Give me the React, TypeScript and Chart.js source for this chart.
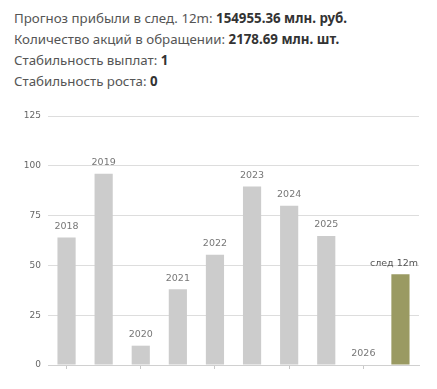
import React, { useEffect, useRef } from "react";
import { Chart, registerables } from "chart.js";

Chart.register(...registerables);

const categories = ["2018", "2019", "2020", "2021", "2022", "2023", "2024", "2025", "2026", "след 12m"];
const values = [64, 96, 9.7, 38, 55.3, 89.6, 80, 64.8, 0, 45.6];
const barColors = ["#cccccc", "#cccccc", "#cccccc", "#cccccc", "#cccccc", "#cccccc", "#cccccc", "#cccccc", "#cccccc", "#9a9a62"];
const yTicks = [0, 25, 50, 75, 100, 125];

const headerLines: [string, string][] = [
  ["Прогноз прибыли в след. 12m: ", "154955.36 млн. руб."],
  ["Количество акций в обращении: ", "2178.69 млн. шт."],
  ["Стабильность выплат: ", "1"],
  ["Стабильность роста: ", "0"],
];

const labelPlugin = {
  id: "barLabels",
  afterDatasetsDraw(chart: any) {
    const { ctx, chartArea } = chart;
    const meta = chart.getDatasetMeta(0);
    ctx.save();
    ctx.font = "9.5px 'DejaVu Sans'";
    ctx.textBaseline = "middle";
    meta.data.forEach((bar: any, i: number) => {
      const text = categories[i];
      const w = ctx.measureText(text).width;
      let x = bar.x;
      ctx.textAlign = "center";
      if (x + w / 2 > chartArea.right) {
        ctx.textAlign = "right";
        x = chartArea.right - 1;
      }
      ctx.fillStyle = i === categories.length - 1 ? "#555" : "#777";
      ctx.fillText(text, x, bar.y - 11);
    });
    ctx.restore();
  },
};

export default function App() {
  const ref = useRef<HTMLCanvasElement>(null);
  useEffect(() => {
    document.body.style.margin = "0";
    const chart = new Chart(ref.current!, {
      type: "bar",
      data: {
        labels: categories,
        datasets: [
          {
            data: values,
            backgroundColor: barColors,
            barPercentage: 0.49,
            categoryPercentage: 1,
          },
        ],
      },
      options: {
        animation: false,
        responsive: false,
        maintainAspectRatio: false,
        layout: { padding: { top: 16, right: 18, left: 0, bottom: 0 } },
        plugins: { legend: { display: false }, tooltip: { enabled: false } },
        scales: {
          x: {
            offset: true,
            grid: {
              offset: false,
              drawOnChartArea: false,
              tickLength: 4,
              color: (c: any) => (c.index % 2 === 0 ? "#c8c8c8" : "rgba(0,0,0,0)"),
            },
            border: { color: "#d0d0d0" },
            ticks: {
              autoSkip: false,
              maxRotation: 0,
              callback: () => "",
            },
            afterFit: (s: any) => {
              s.height = 20;
            },
          },
          y: {
            min: 0,
            max: 125,
            afterBuildTicks: (s: any) => {
              s.ticks = yTicks.map((v) => ({ value: v }));
            },
            grid: { color: "#dddddd", drawTicks: false },
            border: { display: false },
            ticks: {
              color: "#666",
              font: { family: "'DejaVu Sans'", size: 9 },
              padding: 7,
            },
            afterFit: (s: any) => {
              s.width = 48;
            },
          },
        },
      },
      plugins: [labelPlugin],
    });
    return () => chart.destroy();
  }, []);

  return (
    <div style={{ position: "relative", width: 437, height: 389, background: "#fff" }}>
      <div style={{ position: "absolute", left: 14, top: 8, fontFamily: "'Noto Sans', sans-serif", fontSize: 13.3, color: "#555", lineHeight: "21px" }}>
        {headerLines.map(([a, b], i) => (
          <div key={i} style={{ whiteSpace: "nowrap" }}>
            {a}
            <b style={{ color: "#333" }}>{b}</b>
          </div>
        ))}
      </div>
      <canvas ref={ref} width={437} height={285} style={{ position: "absolute", left: 0, top: 100, width: 437, height: 285 }} />
    </div>
  );
}
